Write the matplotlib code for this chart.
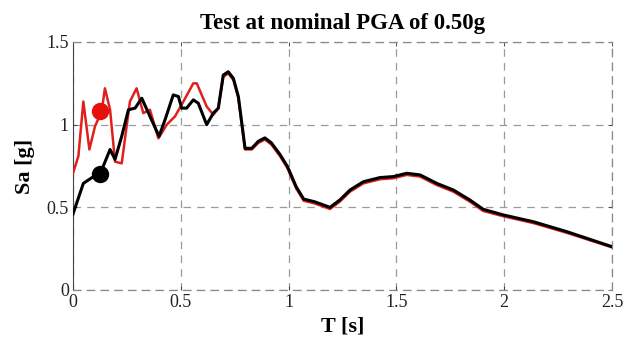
import matplotlib
matplotlib.use("Agg")
import matplotlib.pyplot as plt
import numpy as np

# Spectral acceleration Sa [g] vs period T [s]
t_black = [0.0, 0.048, 0.094, 0.125, 0.172, 0.195, 0.226, 0.257, 0.288, 0.319,
           0.357, 0.399, 0.427, 0.465, 0.489, 0.504, 0.527, 0.558, 0.581, 0.62,
           0.651, 0.674, 0.697, 0.72, 0.744, 0.767, 0.798, 0.829, 0.86, 0.89,
           0.92, 0.96, 0.995, 1.035, 1.07, 1.12, 1.192, 1.238, 1.285, 1.347,
           1.424, 1.486, 1.548, 1.61, 1.687, 1.764, 1.84, 1.903, 1.996, 2.135,
           2.29, 2.5]
sa_black = [0.46, 0.645, 0.685, 0.70, 0.85, 0.79, 0.93, 1.09, 1.10, 1.16,
            1.05, 0.93, 1.03, 1.18, 1.17, 1.10, 1.10, 1.15, 1.13, 1.00,
            1.07, 1.10, 1.30, 1.32, 1.28, 1.17, 0.857, 0.857, 0.90, 0.92,
            0.89, 0.82, 0.746, 0.625, 0.55, 0.534, 0.50, 0.545, 0.605, 0.655,
            0.68, 0.686, 0.706, 0.696, 0.645, 0.605, 0.545, 0.488, 0.454, 0.413,
            0.353, 0.262]

t_red = [0.0, 0.025, 0.048, 0.076, 0.102, 0.133, 0.148, 0.172, 0.195, 0.226,
         0.264, 0.295, 0.326, 0.357, 0.396, 0.435, 0.473, 0.512, 0.558, 0.574,
         0.62, 0.651, 0.674, 0.697, 0.72, 0.744, 0.767, 0.798, 0.829, 0.86,
         0.89, 0.92, 0.96, 0.995, 1.035, 1.07, 1.12, 1.192, 1.238, 1.285,
         1.347, 1.424, 1.486, 1.548, 1.61, 1.687, 1.764, 1.84, 1.903, 1.996,
         2.135, 2.29, 2.5]
sa_red = [0.706, 0.81, 1.14, 0.85, 0.99, 1.08, 1.22, 1.09, 0.776, 0.766,
          1.14, 1.22, 1.07, 1.09, 0.917, 1.00, 1.05, 1.14, 1.25, 1.25,
          1.11, 1.06, 1.10, 1.29, 1.31, 1.27, 1.16, 0.85, 0.85, 0.89,
          0.91, 0.88, 0.81, 0.736, 0.615, 0.54, 0.524, 0.49, 0.535, 0.595,
          0.645, 0.67, 0.676, 0.696, 0.686, 0.635, 0.595, 0.535, 0.478, 0.446,
          0.405, 0.346, 0.258]

# Highlighted points (PGA-level period)
t_mark = 0.125
sa_mark_red = 1.08
sa_mark_black = 0.70

x_ticks = [0, 0.5, 1, 1.5, 2, 2.5]
x_ticklabels = ["0", "0.5", "1", "1.5", "2", "2.5"]
y_ticks = [0, 0.5, 1, 1.5]
y_ticklabels = ["0", "0.5", "1", "1.5"]

plt.rcParams["font.family"] = ["Liberation Serif", "DejaVu Serif"]

fig = plt.figure(figsize=(6.36, 3.40), dpi=100)
ax = fig.add_axes([73 / 636, 1 - 290 / 340, (612 - 73) / 636, (290 - 42) / 340])

ax.plot(t_red, sa_red, color="#e0201e", lw=1.8, zorder=3)
ax.plot(t_black, sa_black, color="black", lw=2.2, zorder=4)
ax.plot([t_mark], [sa_mark_red], "o", color="#e8100c", ms=11.5, zorder=5)
ax.plot([t_mark], [sa_mark_black], "o", color="black", ms=11.5, zorder=5)

ax.set_xlim(0, 2.5)
ax.set_ylim(0, 1.5)
ax.set_xticks(x_ticks)
ax.set_xticklabels(x_ticklabels)
ax.set_yticks(y_ticks)
ax.set_yticklabels(y_ticklabels)
ax.tick_params(direction="in", length=3, width=0.6, labelsize=13, pad=3,
               top=True, right=True, colors="#333333", labelcolor="#222222")

dash = (0, (6, 5))
ax.grid(True, linestyle=dash, color="#9a9a9a", lw=0.9)
for side in ["top", "right", "bottom"]:
    ax.spines[side].set_color("#8a8a8a")
    ax.spines[side].set_linestyle(dash)
    ax.spines[side].set_linewidth(0.9)
ax.spines["left"].set_color("#444444")
ax.spines["left"].set_linewidth(0.8)

ax.set_title("Test at nominal PGA of 0.50g", fontsize=16.5, fontweight="bold", pad=9)
ax.set_xlabel("T [s]", fontsize=16, fontweight="bold", labelpad=4)
ax.set_ylabel("Sa [g]", fontsize=16, fontweight="bold", labelpad=8)

fig.savefig("out.png", dpi=100)
